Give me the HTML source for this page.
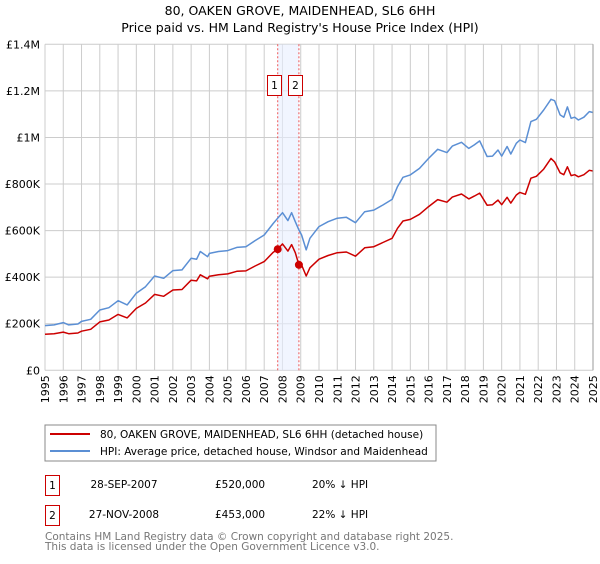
<!DOCTYPE html>
<html><head><meta charset="utf-8"><style>
body{margin:0;background:#fff;font-family:"DejaVu Sans","Liberation Sans",sans-serif;}
svg text{font-family:"DejaVu Sans","Liberation Sans",sans-serif;}
</style></head><body>
<svg id="chart" width="600" height="560" xmlns="http://www.w3.org/2000/svg">
<text x="300" y="15" text-anchor="middle" font-size="12.5">80, OAKEN GROVE, MAIDENHEAD, SL6 6HH</text>
<text x="300" y="32" text-anchor="middle" font-size="12.5">Price paid vs. HM Land Registry's House Price Index (HPI)</text>
<g id="grid"></g>
<g id="plot"></g>
<g id="axes"></g>
<rect x="45" y="425" width="391" height="36" fill="#fff" stroke="#888"/>
<line x1="50" y1="434" x2="90" y2="434" stroke="#cc0000" stroke-width="2"/>
<text x="100" y="438" font-size="10.5">80, OAKEN GROVE, MAIDENHEAD, SL6 6HH (detached house)</text>
<line x1="50" y1="451" x2="90" y2="451" stroke="#5b8fd4" stroke-width="2"/>
<text x="100" y="455" font-size="10.5">HPI: Average price, detached house, Windsor and Maidenhead</text>
<g>
<rect x="45.5" y="475.5" width="14" height="20" fill="#fff" stroke="#cc0000"/>
<text x="52.5" y="489" text-anchor="middle" font-size="10.5">1</text>
<text x="124" y="488" text-anchor="middle" font-size="10.5">28-SEP-2007</text>
<text x="215" y="488" font-size="10.5">£520,000</text>
<text x="312" y="488" font-size="10.5">20% ↓ HPI</text>
</g>
<g>
<rect x="45.5" y="505.5" width="14" height="20" fill="#fff" stroke="#cc0000"/>
<text x="52.5" y="519" text-anchor="middle" font-size="10.5">2</text>
<text x="124" y="518" text-anchor="middle" font-size="10.5">27-NOV-2008</text>
<text x="215" y="518" font-size="10.5">£453,000</text>
<text x="312" y="518" font-size="10.5">22% ↓ HPI</text>
</g>
<text x="45" y="540" font-size="10.5" fill="#777">Contains HM Land Registry data © Crown copyright and database right 2025.</text>
<text x="45" y="550" font-size="10.5" fill="#777">This data is licensed under the Open Government Licence v3.0.</text>
</svg>
<script>
const years=[1995,1995.5,1996,1996.3,1996.8,1997,1997.5,1998,1998.5,1999,1999.5,2000,2000.5,2001,2001.5,2002,2002.5,2003,2003.3,2003.5,2003.9,2004,2004.5,2005,2005.5,2006,2006.5,2007,2007.5,2007.74,2008,2008.3,2008.5,2008.7,2008.9,2009.05,2009.3,2009.5,2010,2010.5,2011,2011.5,2012,2012.5,2013,2013.5,2014,2014.3,2014.6,2015,2015.5,2016,2016.5,2017,2017.3,2017.8,2018.2,2018.5,2018.8,2019.2,2019.5,2019.8,2020,2020.3,2020.5,2020.8,2021,2021.3,2021.6,2021.9,2022.3,2022.7,2022.9,2023.2,2023.4,2023.6,2023.8,2024,2024.2,2024.5,2024.8,2025];
const hpiValues=[192,195,205,195,199,210,219,259,269,299,281,331,359,405,395,428,431,481,477,510,488,502,510,514,528,531,557,581,631,653,677,643,677,638,603,581,517,567,617,638,653,657,634,681,688,710,734,789,829,839,867,910,949,935,963,979,953,968,985,918,920,946,920,961,929,975,989,978,1068,1078,1118,1164,1158,1097,1087,1131,1082,1087,1075,1087,1111,1107];
const priceValues=[155,157,164,157,160,168,176,208,216,240,225,266,289,326,318,345,347,387,384,410,393,404,410,414,425,427,448,467,507,520,543,512,540,505,453,452,405,440,477,493,505,508,490,526,531,549,567,610,641,648,670,703,733,722,744,757,736,748,761,709,711,731,711,743,718,753,764,756,825,833,864,910,895,848,840,874,836,840,831,840,859,856];
const sales=[{n:"1",year:2007.74,value:520},{n:"2",year:2008.9,value:453}];
const yTicks=[0,200,400,600,800,1000,1200,1400];
const yTickLabels=["£0","£200K","£400K","£600K","£800K","£1M","£1.2M","£1.4M"];
const xTicks=[1995,1996,1997,1998,1999,2000,2001,2002,2003,2004,2005,2006,2007,2008,2009,2010,2011,2012,2013,2014,2015,2016,2017,2018,2019,2020,2021,2022,2023,2024,2025];
const X0=45,X1=593,Y0=370.3,Y1=44.3;
const xs=y=>X0+(y-1995)/30*(X1-X0);
const ys=v=>Y0-v/1400*(Y0-Y1);
const NS="http://www.w3.org/2000/svg";
function mk(tag,attrs,parent){const e=document.createElementNS(NS,tag);for(const k in attrs)e.setAttribute(k,attrs[k]);parent.appendChild(e);return e;}
const grid=document.getElementById('grid'),plot=document.getElementById('plot'),axes=document.getElementById('axes');
xTicks.forEach(t=>{const l=mk('line',{x1:xs(t),x2:xs(t),y1:Y1,y2:Y0,stroke:'#ccc'},grid);


const tx=mk('text',{x:0,y:0,'font-size':'11','text-anchor':'end',transform:`translate(${xs(t)+4},${Y0+5}) rotate(-90)`},axes);
tx.textContent=t;

});
yTicks.forEach((t,i)=>{const l=mk('line',{x1:X0,x2:X1,y1:ys(t),y2:ys(t),stroke:'#ccc'},grid);


const tx=mk('text',{x:40,y:ys(t)+4,'font-size':'11','text-anchor':'end'},axes);
tx.textContent=yTickLabels[i];

});
const sh=mk('rect',{x:xs(sales[0].year),y:Y1,width:xs(sales[1].year)-xs(sales[0].year),height:Y0-Y1,fill:'#e8eeff',opacity:'0.6'},plot);


sales.forEach(s=>{const l=mk('line',{x1:xs(s.year),x2:xs(s.year),y1:Y1,y2:Y0,stroke:'#e55','stroke-dasharray':'2,2'},plot);


const bx=mk('rect',{x:xs(s.year)-10.5+(s.n==="1"?0:-0.5)-(s.n==="1"?0:-0),y:75.5,width:14,height:20,fill:'#fff',stroke:'#cc0000'},plot);
bx.setAttribute('x',s.n==="1"?267.5:288.5);


const t=mk('text',{x:(s.n==="1"?274.5:295.5),y:89,'font-size':'10.5','text-anchor':'middle'},plot);
t.textContent=s.n;

});
function line(vals,color,name){const d=years.map((y,i)=>(i?'L':'M')+xs(y).toFixed(1)+','+ys(vals[i]).toFixed(1)).join('');
const p=mk('path',{d:d,fill:'none',stroke:color,'stroke-width':'1.5','stroke-linejoin':'round'},plot);

}
line(hpiValues,'#5b8fd4','hpi-line');
line(priceValues,'#cc0000','price-line');
sales.forEach(s=>{const c=mk('circle',{cx:xs(s.year),cy:ys(s.value),r:4,fill:'#cc0000'},plot);

});
const ax=mk('line',{x1:X1,x2:X1,y1:Y1,y2:Y0,stroke:'#999'},axes);


</script>
</body></html>
